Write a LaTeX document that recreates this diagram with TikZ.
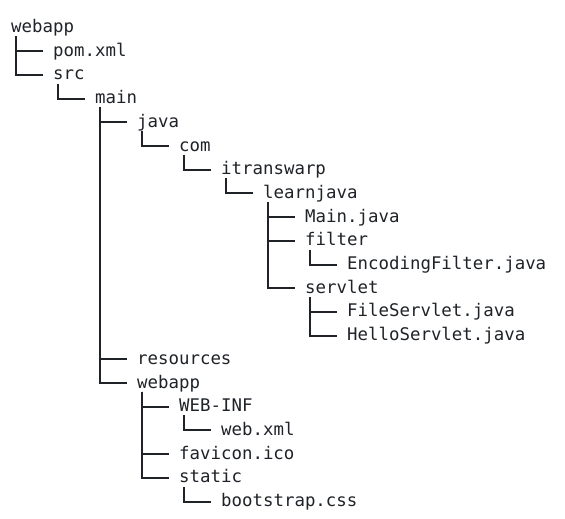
\documentclass[tikz,border=0pt]{standalone}
\usepackage{fontspec}
\setmonofont{DejaVu Sans Mono}
\definecolor{ink}{HTML}{1F2328}
\begin{document}
\begin{tikzpicture}[x=1pt,y=-1pt,
  entry/.style={anchor=base west,inner sep=0pt,text height=13pt,text depth=3pt,
    font=\ttfamily\fontsize{17.4pt}{20pt}\selectfont,text=ink},
  branch/.style={draw=ink,line width=2pt}]
\useasboundingbox[fill=white] (0,0) rectangle (565,519);
\node[entry] (n0)  at (11,32.5)  {webapp};
\node[entry] (n1)  at (53,56.2)  {pom.xml};
\node[entry] (n2)  at (53,79.9)  {src};
\node[entry] (n3)  at (95,103.6) {main};
\node[entry] (n4)  at (137,127.3) {java};
\node[entry] (n5)  at (179,151.0) {com};
\node[entry] (n6)  at (221,174.7) {itranswarp};
\node[entry] (n7)  at (263,198.4) {learnjava};
\node[entry] (n8)  at (305,222.1) {Main.java};
\node[entry] (n9)  at (305,245.8) {filter};
\node[entry] (n10) at (347,269.5) {EncodingFilter.java};
\node[entry] (n11) at (305,293.2) {servlet};
\node[entry] (n12) at (347,316.9) {FileServlet.java};
\node[entry] (n13) at (347,340.6) {HelloServlet.java};
\node[entry] (n14) at (137,364.3) {resources};
\node[entry] (n15) at (137,388.0) {webapp};
\node[entry] (n16) at (179,411.7) {WEB-INF};
\node[entry] (n17) at (221,435.4) {web.xml};
\node[entry] (n18) at (179,459.1) {favicon.ico};
\node[entry] (n19) at (179,482.8) {static};
\node[entry] (n20) at (221,506.5) {bootstrap.css};
\foreach \p/\c in {0/1,0/2,2/3,3/4,4/5,5/6,6/7,7/8,7/9,9/10,7/11,11/12,11/13,3/14,3/15,15/16,16/17,15/18,15/19,19/20}
  \draw[branch] ([xshift=5pt,yshift=-0.5pt]n\p.south west) |- ([xshift=-10.5pt]n\c.west);
\end{tikzpicture}
\end{document}
